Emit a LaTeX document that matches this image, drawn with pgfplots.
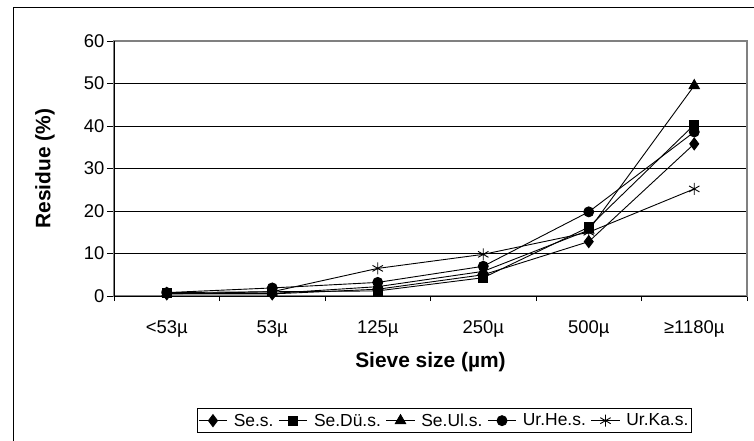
\documentclass[border=0pt]{standalone}
\usepackage{pgfplots}
\pgfplotsset{compat=1.18}
\usepackage{fontspec}
\setmainfont{Liberation Sans}

\newcommand\chartfont{\fontsize{18.5}{22}\selectfont}
\newcommand\legendfont{\fontsize{17.5}{21}\selectfont}
\newcommand\titlefont{\fontsize{21}{25}\selectfont\bfseries}

\pgfplotsset{
  residue/.style={black, line width=0.9bp, mark options={solid, fill=black, line width=0.9bp}},
}

\begin{document}
\begin{tikzpicture}[font=\chartfont]
\useasboundingbox (0,0) rectangle (754bp,-441bp);
% chart frame (open towards the right and bottom)
\draw[black, line width=1bp] (13bp,-441bp) -- (13bp,-7bp) -- (754bp,-7bp);

\begin{axis}[
  at={(114bp,-296bp)}, anchor=south west,
  scale only axis, width=633bp, height=255bp,
  font=\chartfont,
  xmin=-0.5, xmax=5.5, ymin=0, ymax=60,
  xtick={0,1,2,3,4,5},
  xticklabels={<53µ,53µ,125µ,250µ,500µ,≥1180µ},
  minor xtick={-0.5,0.5,1.5,2.5,3.5,4.5,5.5},
  ytick={0,10,...,60},
  tick align=outside, tick pos=lower,
  major tick length=7bp, minor tick length=5bp,
  x tick style={draw=none},
  minor x tick style={draw=black, line width=0.8bp},
  y tick style={black, line width=0.8bp},
  ymajorgrids, major grid style={black, line width=0.8bp},
  axis line style={draw=gray, line width=1.2bp},
  /pgf/number format/assume math mode=true,
  every tick label/.append style={font=\chartfont},
  xticklabel style={yshift=-14bp},
  yticklabel style={xshift=1bp},
  xlabel={Sieve size (µm)},
  ylabel={Residue (\%)},
  every axis label/.append style={font=\titlefont},
  xlabel style={at={(axis description cs:0.5,-0.259)}, anchor=center},
  ylabel style={at={(axis description cs:-0.109,0.5)}, anchor=center},
  legend columns=5,
  legend style={at={(axis description cs:0.131,-0.44)}, anchor=north west,
    draw=black, line width=0.8bp, fill=white,
    font=\legendfont,
    inner xsep=1bp, inner ysep=3bp,
    /tikz/every even column/.append style={column sep=3bp}},
  legend image code/.code={
    \draw[mark repeat=2, mark phase=2] plot coordinates {(0cm,0cm) (0.5cm,0cm) (1.0cm,0cm)};
    \path (1.15cm,0cm);
  },
]
\addplot[residue, mark=diamond*, mark size=6bp] coordinates
  {(0,0.5) (1,0.5) (2,1.6) (3,5.0) (4,12.8) (5,35.8)};
\addlegendentry{Se.s.}
\addplot[residue, mark=square*, mark size=4.5bp] coordinates
  {(0,0.8) (1,1.0) (2,1.2) (3,4.3) (4,16.2) (5,40.3)};
\addlegendentry{Se.Dü.s.}
\addplot[residue, mark=triangle*, mark size=6bp] coordinates
  {(0,0.6) (1,0.6) (2,2.2) (3,5.8) (4,15.5) (5,49.5)};
\addlegendentry{Se.Ul.s.}
\addplot[residue, mark=*, mark size=5bp] coordinates
  {(0,0.8) (1,1.9) (2,3.2) (3,7.0) (4,19.8) (5,38.6)};
\addlegendentry{Ur.He.s.}
\addplot[residue, mark=asterisk, mark size=6bp] coordinates
  {(0,0.5) (1,1.0) (2,6.5) (3,9.8) (4,15.0) (5,25.2)};
\addlegendentry{Ur.Ka.s.}
% left and bottom axis lines in black
\draw[black, line width=1bp] (rel axis cs:0,1) -- (rel axis cs:0,0) -- (rel axis cs:1,0);
\end{axis}
\end{tikzpicture}
\end{document}
